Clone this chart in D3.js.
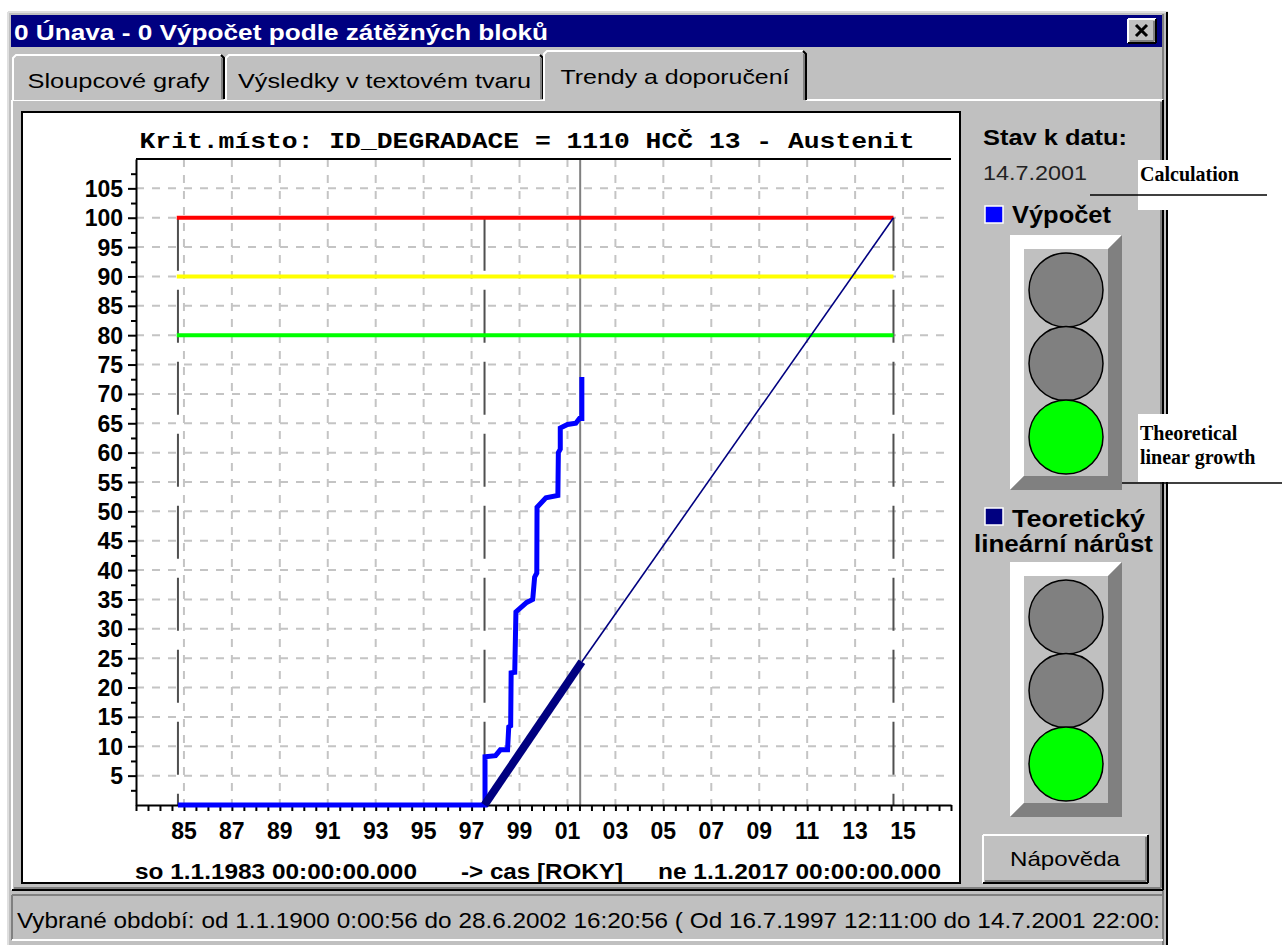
<!DOCTYPE html>
<html lang="cs">
<head>
<meta charset="UTF-8">
<title>Trendy a doporučení</title>
<script src="https://d3js.org/d3.v7.min.js"></script>
<style>
  body { margin: 0; background: #fff; }
  svg text { font-family: "Liberation Sans", Arial, sans-serif; }
</style>
</head>
<body>
<svg id="chart" width="1287" height="945"></svg>
<script>
// ---- data ----
var xTickYears = [1985, 1987, 1989, 1991, 1993, 1995, 1997, 1999, 2001, 2003, 2005, 2007, 2009, 2011, 2013, 2015];
var xTickLabels = ["85", "87", "89", "91", "93", "95", "97", "99", "01", "03", "05", "07", "09", "11", "13", "15"];
var yTicks = [5, 10, 15, 20, 25, 30, 35, 40, 45, 50, 55, 60, 65, 70, 75, 80, 85, 90, 95, 100, 105];

var thresholdValues = [100, 90, 80];
var thresholdColors = ["#ff0000", "#ffff00", "#00ff00"];
var thresholdSpan = [1984.7, 2014.6];

var markerYears = [1984.75, 1997.54, 2014.6];   // long dashed verticals
var currentYear = 2001.53;                      // 14.7.2001

// Výpočet (blue step line)
var calcYears = [1984.75, 1997.56, 1997.56, 1998.0, 1998.2, 1998.5, 1998.55, 1998.63, 1998.65, 1998.8, 1998.85,
    1999.3, 1999.55, 1999.63, 1999.72, 1999.73, 2000.1, 2000.6, 2000.62, 2000.7, 2000.7, 2001.0, 2001.35,
    2001.5, 2001.6, 2001.6];
var calcValues = [0, 0, 8.2, 8.4, 9.4, 9.4, 13.3, 13.5, 22.5, 22.6, 32.9,
    34.5, 35, 38.8, 39.5, 50.7, 52.3, 52.7, 60, 60.6, 64.2, 64.8, 65,
    65.8, 65.8, 72.9];

// Teoretický lineární nárůst
var trendYears = [1997.54, 2001.6, 2014.6];
var trendValues = [0, 24.4, 100];

var lightStates = ["off", "off", "on"];

// ---- drawing ----
var svg = d3.select("#chart");
var GRAY = "#c0c0c0", DARK = "#808080";

function line3d(g, x1, y1, x2, y2, c, w) {
    g.append("line").attr("x1", x1).attr("y1", y1).attr("x2", x2).attr("y2", y2)
        .attr("stroke", c).attr("stroke-width", w || 2);
}

// raised box: light top/left, dark bottom/right
function raised(g, x, y, w, h) {
    line3d(g, x, y, x + w, y, "#fff");
    line3d(g, x, y, x, y + h, "#fff");
    line3d(g, x, y + h, x + w, y + h, "#000");
    line3d(g, x + w, y, x + w, y + h, "#000");
    line3d(g, x + 2, y + h - 2, x + w - 2, y + h - 2, DARK);
    line3d(g, x + w - 2, y + 2, x + w - 2, y + h - 2, DARK);
}

// dialog
var win = svg.append("g");
win.append("rect").attr("x", 8).attr("y", 12).attr("width", 1160).attr("height", 935).attr("fill", GRAY);
line3d(win, 8, 12, 1168, 12, "#dfdfdf");
line3d(win, 8, 12, 8, 945, "#dfdfdf");
line3d(win, 1167, 12, 1167, 945, "#000", 2);
line3d(win, 1163, 14, 1163, 945, DARK, 2);

// title bar
win.append("rect").attr("x", 11).attr("y", 15).attr("width", 1151).attr("height", 32).attr("fill", "#000080");
win.append("text").attr("x", 14).attr("y", 40).attr("fill", "#fff")
    .attr("font-size", 22).attr("font-weight", "bold")
    .attr("textLength", 534).attr("lengthAdjust", "spacingAndGlyphs")
    .text("0 Únava - 0 Výpočet podle zátěžných bloků");
win.append("rect").attr("x", 1128).attr("y", 19).attr("width", 28).attr("height", 24).attr("fill", GRAY);
raised(win, 1128, 19, 28, 24);
win.append("path").attr("d", "M1136,25 L1147,36 M1147,25 L1136,36")
    .attr("stroke", "#000").attr("stroke-width", 3);

// tab panel
raised(win, 12, 100, 1151, 790);

var tabs = [
    { x0: 13, x1: 224, label: "Sloupcové grafy", len: 182, active: false },
    { x0: 226, x1: 543, label: "Výsledky v textovém tvaru", len: 293, active: false },
    { x0: 544, x1: 806, label: "Trendy a doporučení", len: 229, active: true }
];
tabs.forEach(function (t) {
    var top = t.active ? 51 : 55, bot = t.active ? 101 : 100;
    win.append("rect").attr("x", t.x0).attr("y", top).attr("width", t.x1 - t.x0).attr("height", bot - top).attr("fill", GRAY);
    win.append("path").attr("d", "M" + t.x0 + "," + bot + " V" + (top + 3) + " L" + (t.x0 + 3) + "," + top + " H" + (t.x1 - 3))
        .attr("fill", "none").attr("stroke", "#fff").attr("stroke-width", 2);
    win.append("path").attr("d", "M" + (t.x1 - 3) + "," + top + " L" + t.x1 + "," + (top + 3) + " V" + (bot - 1))
        .attr("fill", "none").attr("stroke", "#000").attr("stroke-width", 2);
    line3d(win, t.x1 - 2, top + 3, t.x1 - 2, bot - 1, DARK);
    win.append("text").attr("x", (t.x0 + t.x1) / 2).attr("y", t.active ? 84 : 88)
        .attr("text-anchor", "middle").attr("font-size", 21)
        .attr("textLength", t.len).attr("lengthAdjust", "spacingAndGlyphs")
        .text(t.label);
});

// status bar
line3d(win, 12, 895, 1163, 895, DARK);
line3d(win, 12, 895, 12, 940, DARK);
line3d(win, 12, 940, 1163, 940, "#fff");
win.append("text").attr("x", 17).attr("y", 928).attr("font-size", 22)
    .attr("textLength", 1143).attr("lengthAdjust", "spacingAndGlyphs")
    .text("Vybrané období: od 1.1.1900 0:00:56 do 28.6.2002 16:20:56 ( Od 16.7.1997 12:11:00 do 14.7.2001 22:00:");

// chart panel
svg.append("rect").attr("x", 22).attr("y", 112).attr("width", 938).attr("height", 771)
    .attr("fill", "#fff").attr("stroke", "#000").attr("stroke-width", 2);

// scales
var x = d3.scaleLinear().domain([1983, 2017]).range([136, 951]);
var y = d3.scaleLinear().domain([0, 110]).range([805, 159]);

var plot = svg.append("g");

// grid
plot.append("g").selectAll("line").data(yTicks).join("line")
    .attr("x1", x(1983)).attr("x2", x(2017))
    .attr("y1", function (d) { return y(d); }).attr("y2", function (d) { return y(d); })
    .attr("stroke", "#c4c4c4").attr("stroke-width", 2).attr("stroke-dasharray", "8,8");
plot.append("g").selectAll("line").data(xTickYears).join("line")
    .attr("x1", function (d) { return x(d); }).attr("x2", function (d) { return x(d); })
    .attr("y1", y(110)).attr("y2", y(0))
    .attr("stroke", "#c4c4c4").attr("stroke-width", 2).attr("stroke-dasharray", "8,8");

// vertical markers
plot.append("line").attr("x1", x(currentYear)).attr("x2", x(currentYear))
    .attr("y1", y(110)).attr("y2", y(0)).attr("stroke", DARK).attr("stroke-width", 2);
plot.append("g").selectAll("line").data(markerYears).join("line")
    .attr("x1", function (d) { return x(d); }).attr("x2", function (d) { return x(d); })
    .attr("y1", y(100)).attr("y2", y(0))
    .attr("stroke", "#505050").attr("stroke-width", 2).attr("stroke-dasharray", "53,19");

// thresholds
plot.append("g").selectAll("line").data(thresholdValues).join("line")
    .attr("x1", x(thresholdSpan[0])).attr("x2", x(thresholdSpan[1]))
    .attr("y1", function (d) { return y(d); }).attr("y2", function (d) { return y(d); })
    .attr("stroke", function (d, i) { return thresholdColors[i]; }).attr("stroke-width", 4);

// axes
var xAxis = d3.axisBottom(x).tickValues(d3.range(1983, 2017.01, 0.5)).tickFormat("").tickSize(6).tickSizeOuter(0);
var gx = plot.append("g").attr("transform", "translate(0," + y(0) + ")").call(xAxis);
gx.select(".domain").attr("stroke-width", 2);
gx.selectAll(".tick line").attr("stroke-width", 2);

var yAxis = d3.axisLeft(y).tickValues(d3.range(2.5, 110, 2.5)).tickFormat("")
    .tickSize(0).tickSizeOuter(0);
var gy = plot.append("g").attr("transform", "translate(" + x(1983) + ",0)").call(yAxis);
gy.select(".domain").attr("stroke-width", 2);
gy.selectAll(".tick line").attr("x2", function (d) { return d % 5 === 0 ? -8 : -5; }).attr("stroke-width", 2);
gy.selectAll(".tick").filter(function (d) { return d % 5 === 0; }).append("text")
    .attr("x", -13).attr("dy", "0.35em").attr("text-anchor", "end").attr("fill", "#000")
    .attr("font-size", 23).attr("font-weight", "bold")
    .attr("font-family", "Liberation Sans, Arial, sans-serif")
    .text(function (d) { return d; });

plot.append("line").attr("x1", x(1983)).attr("x2", x(2017)).attr("y1", y(110)).attr("y2", y(110))
    .attr("stroke", "#000").attr("stroke-width", 2);

plot.append("g").selectAll("text").data(xTickYears).join("text")
    .attr("x", function (d) { return x(d); }).attr("y", 839)
    .attr("text-anchor", "middle").attr("font-size", 23).attr("font-weight", "bold")
    .text(function (d, i) { return xTickLabels[i]; });

// series
var lineGen = d3.line().x(function (d) { return x(d[0]); }).y(function (d) { return y(d[1]); });
var calcPts = calcYears.map(function (d, i) { return [d, calcValues[i]]; });
var trendPts = trendYears.map(function (d, i) { return [d, trendValues[i]]; });

plot.append("path").attr("d", lineGen(calcPts)).attr("fill", "none")
    .attr("stroke", "#0000ff").attr("stroke-width", 5);
plot.append("path").attr("d", lineGen(trendPts.slice(1))).attr("fill", "none")
    .attr("stroke", "#000080").attr("stroke-width", 1.6);
plot.append("path").attr("d", lineGen(trendPts.slice(0, 2))).attr("fill", "none")
    .attr("stroke", "#000080").attr("stroke-width", 8);

// chart title and bottom captions
svg.append("text").attr("x", 527).attr("y", 148).attr("text-anchor", "middle")
    .attr("font-family", "Liberation Mono, Courier New, monospace").style("font-family", "Liberation Mono, monospace")
    .attr("font-size", 22).attr("font-weight", "bold")
    .attr("textLength", 775).attr("lengthAdjust", "spacingAndGlyphs")
    .text("Krit.místo: ID_DEGRADACE = 1110 HCČ 13 - Austenit");

var captions = [
    { x: 135, len: 282, t: "so 1.1.1983 00:00:00.000" },
    { x: 461, len: 162, t: "-> cas [ROKY]" },
    { x: 658, len: 283, t: "ne 1.1.2017 00:00:00.000" }
];
svg.append("g").selectAll("text").data(captions).join("text")
    .attr("x", function (d) { return d.x; }).attr("y", 879)
    .attr("font-size", 22).attr("font-weight", "bold")
    .attr("textLength", function (d) { return d.len; }).attr("lengthAdjust", "spacingAndGlyphs")
    .text(function (d) { return d.t; });

// right panel
var side = svg.append("g");
side.append("text").attr("x", 983).attr("y", 145).attr("font-size", 22).attr("font-weight", "bold")
    .attr("textLength", 144).attr("lengthAdjust", "spacingAndGlyphs").text("Stav k datu:");
side.append("text").attr("x", 983).attr("y", 180).attr("font-size", 21).attr("fill", "#222")
    .attr("textLength", 104).attr("lengthAdjust", "spacingAndGlyphs").text("14.7.2001");

function legendBox(yy, color) {
    side.append("rect").attr("x", 985).attr("y", yy).attr("width", 18).attr("height", 17)
        .attr("fill", color).attr("stroke", "#fff").attr("stroke-width", 1.5);
}
legendBox(206, "#0000ff");
side.append("text").attr("x", 1012).attr("y", 223).attr("font-size", 24).attr("font-weight", "bold")
    .attr("textLength", 99).attr("lengthAdjust", "spacingAndGlyphs").text("Výpočet");
legendBox(508, "#000080");
side.append("text").attr("x", 1012).attr("y", 527).attr("font-size", 24).attr("font-weight", "bold")
    .attr("textLength", 133).attr("lengthAdjust", "spacingAndGlyphs").text("Teoretický");
side.append("text").attr("x", 974).attr("y", 552).attr("font-size", 24).attr("font-weight", "bold")
    .attr("textLength", 179).attr("lengthAdjust", "spacingAndGlyphs").text("lineární nárůst");

function trafficLight(top) {
    var x0 = 1010, x1 = 1122, y0 = top, y1 = top + 255, b = 14;
    var g = side.append("g");
    g.append("polygon").attr("points", [[x0, y0], [x1, y0], [x1 - b, y0 + b], [x0 + b, y0 + b], [x0 + b, y1 - b], [x0, y1]].join(" "))
        .attr("fill", "#fff");
    g.append("polygon").attr("points", [[x1, y0], [x1, y1], [x0, y1], [x0 + b, y1 - b], [x1 - b, y1 - b], [x1 - b, y0 + b]].join(" "))
        .attr("fill", DARK);
    g.append("rect").attr("x", x0 + b).attr("y", y0 + b).attr("width", x1 - x0 - 2 * b).attr("height", y1 - y0 - 2 * b)
        .attr("fill", GRAY);
    g.selectAll("circle").data(lightStates).join("circle")
        .attr("cx", 1066).attr("cy", function (d, i) { return top + 55 + i * 73.5; }).attr("r", 37)
        .attr("fill", function (d) { return d === "on" ? "#00ff00" : DARK; })
        .attr("stroke", "#000").attr("stroke-width", 1.5);
}
trafficLight(235);
trafficLight(562);

side.append("rect").attr("x", 983).attr("y", 835).attr("width", 165).attr("height", 48).attr("fill", GRAY);
raised(side, 983, 835, 165, 48);
side.append("text").attr("x", 1065).attr("y", 866).attr("text-anchor", "middle").attr("font-size", 21)
    .attr("textLength", 110).attr("lengthAdjust", "spacingAndGlyphs").text("Nápověda");

// annotations outside the dialog
var notes = svg.append("g");
notes.append("rect").attr("x", 1138).attr("y", 160).attr("width", 40).attr("height", 50).attr("fill", "#fff");
notes.append("rect").attr("x", 1138).attr("y", 414).attr("width", 40).attr("height", 68).attr("fill", "#fff");
notes.append("line").attr("x1", 1090).attr("x2", 1267).attr("y1", 195).attr("y2", 195).attr("stroke", "#000").attr("stroke-width", 1.5);
notes.append("line").attr("x1", 1122).attr("x2", 1282).attr("y1", 483).attr("y2", 483).attr("stroke", "#000").attr("stroke-width", 1.5);
notes.selectAll("text").data([["Calculation", 181], ["Theoretical", 440], ["linear growth", 464]]).join("text")
    .attr("x", 1140).attr("y", function (d) { return d[1]; })
    .style("font-family", "Liberation Serif, Times New Roman, serif")
    .attr("font-size", 20).attr("font-weight", "bold")
    .text(function (d) { return d[0]; });
</script>
</body>
</html>
